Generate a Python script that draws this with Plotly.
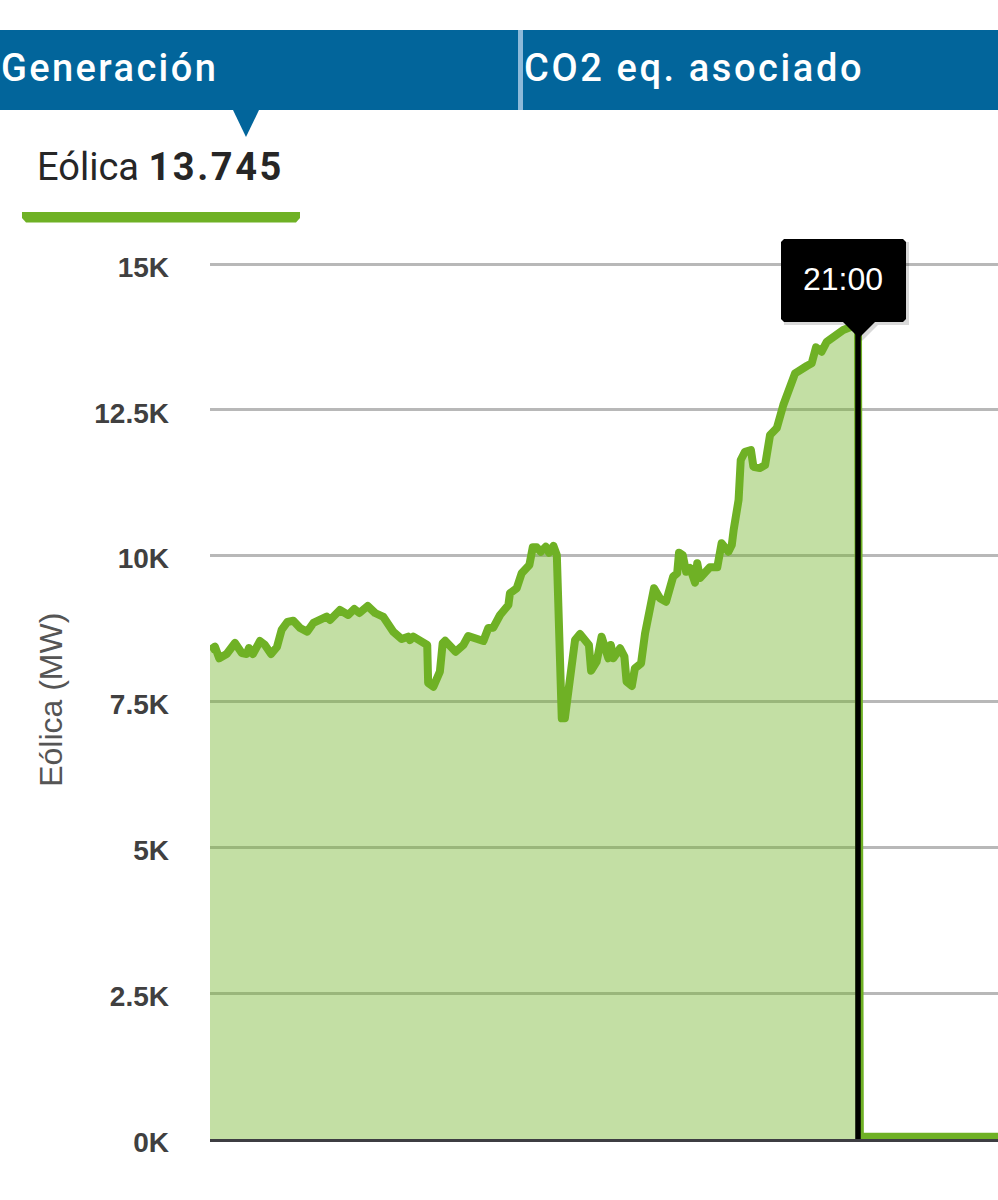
import plotly.graph_objects as go

# generation curve (hours since 00:00, MW)
horas = [0, 0.16, 0.30, 0.54, 0.81, 1.03, 1.19, 1.26, 1.39, 1.62, 1.78, 1.98, 2.17, 2.32, 2.51, 2.70,
         2.92, 3.15, 3.35, 3.56, 3.78, 3.89, 4.21, 4.48, 4.68, 4.84, 5.11, 5.35, 5.62, 5.94, 6.21,
         6.42, 6.48, 6.59, 6.86, 7.04, 7.07, 7.24, 7.45, 7.54, 7.62, 7.78, 7.96, 8.21, 8.37, 8.59,
         8.86, 9.02, 9.18, 9.40, 9.67, 9.72, 9.94, 10.10, 10.35, 10.46, 10.59, 10.72, 10.88, 10.99,
         11.13, 11.24, 11.29, 11.40, 11.50, 11.69, 11.83, 11.99, 12.19, 12.28, 12.35, 12.53, 12.69,
         12.91, 12.99, 13.07, 13.29, 13.43, 13.50, 13.67, 13.77, 13.97, 14.10, 14.26, 14.39, 14.58,
         14.78, 15.01, 15.14, 15.20, 15.32, 15.43, 15.56, 15.72, 15.79, 15.88, 16.20, 16.44, 16.58,
         16.80, 16.91, 16.97, 17.07, 17.13, 17.20, 17.34, 17.53, 17.61, 17.82, 17.99, 18.15, 18.37,
         18.58, 18.96, 19.34, 19.50, 19.64, 19.82, 19.99, 20.52, 20.93, 21.0, 21.06, 25.6]
eolica = [8383, 8440, 8241, 8314, 8503, 8331, 8314, 8417, 8314, 8537, 8469, 8314, 8434, 8726, 8863, 8885,
          8760, 8697, 8846, 8914, 8954, 8897, 9069, 8983, 9086, 9017, 9137, 9017, 8949, 8697, 8571,
          8611, 8554, 8611, 8537, 8469, 7817, 7754, 8011, 8498, 8542, 8434, 8354, 8469, 8623, 8583,
          8537, 8760, 8766, 8983, 9154, 9355, 9441, 9698, 9840, 10143, 10143, 10068, 10154, 10051,
          10166, 10011, 8726, 7212, 7212, 8097, 8554, 8657, 8554, 8469, 8028, 8183, 8611,
          8241, 8469, 8241, 8412, 8268, 7840, 7766, 8069, 8155, 8669, 9183, 9441, 9269,
          9211, 9640, 9698, 10051, 10011, 9725, 9789, 9537, 9869, 9617, 9801, 9801, 10212,
          10068, 10183, 10440, 10732, 10955, 11640, 11782, 11811, 11525, 11503, 11554, 12069, 12189,
          12583, 13126, 13251, 13298, 13572, 13497, 13668, 13869, 13954, 13954, 40, 40]

tick_vals = [0, 2500, 5000, 7500, 10000, 12500, 15000]
tick_text = ["0K", "2.5K", "5K", "7.5K", "10K", "12.5K", "15K"]
hora_actual = 21.0
valor_tope = 13954
y_max = 15060  # a bit past 15K, plotly drops a gridline sitting on the range edge

W, H = 998, 1200
AZUL = "#02659b"
VERDE = "#6fb125"
Y_CERO = 1139
PX_POR_MW = 875 / 15000


def fx(px):
    return px / W


def fy(py):
    return 1 - py / H


def rect(x0, y0, x1, y1, color):
    return dict(type="rect", xref="paper", yref="paper", x0=fx(x0), x1=fx(x1), y0=fy(y0), y1=fy(y1),
                fillcolor=color, line_width=0, layer="above")


def poly(puntos, color):
    path = "M " + " L ".join(f"{fx(a):.5f},{fy(b):.5f}" for a, b in puntos) + " Z"
    return dict(type="path", xref="paper", yref="paper", path=path, fillcolor=color, line_width=0,
                layer="above")


fig = go.Figure(go.Scatter(x=horas, y=eolica, mode="lines", fill="tozeroy",
                           line=dict(color=VERDE, width=8), fillcolor="rgba(113,178,38,0.42)",
                           hoverinfo="skip"))

shapes = [
    # header
    rect(0, 30, 518, 110, AZUL),
    rect(518, 30, 523, 110, "#8db9d9"),
    rect(523, 30, 998, 110, AZUL),
    poly([(233, 110), (259, 110), (246, 137)], AZUL),
    # selected series tab
    poly([(22, 212), (300, 212), (300, 218), (296, 222.5), (26, 222.5), (22, 218)], VERDE),
    # cursor
    dict(type="line", xref="x", yref="y", x0=hora_actual, x1=hora_actual, y0=0, y1=valor_tope,
         line=dict(color="black", width=5.5), layer="above"),
    # tooltip shadow and box
    rect(784, 242, 909, 325, "rgba(0,0,0,0.15)"),
    poly([(846, 325), (878, 325), (862, 341)], "rgba(0,0,0,0.15)"),
    poly([(784, 239), (903, 239), (906, 242), (906, 319), (903, 322), (784, 322), (781, 319), (781, 242)],
         "black"),
    poly([(843, 322), (875, 322), (859, 338)], "black"),
]

annotations = [
    dict(text='<span style="letter-spacing:2.4px">Generación</span>', x=fx(0), y=fy(68),
         font=dict(family="Roboto", size=38, color="white", weight=500)),
    dict(text='<span style="letter-spacing:2.6px">CO2 eq. asociado</span>', x=fx(523), y=fy(68),
         font=dict(family="Roboto", size=38, color="white", weight=500)),
    dict(text='Eólica <span style="font-weight:700;letter-spacing:2.6px">13.745</span>', x=fx(36), y=fy(167),
         font=dict(family="Roboto", size=38, color="#262626")),
    dict(text="21:00", x=fx(843), y=fy(279), xanchor="center",
         font=dict(family="Liberation Sans", size=32, color="white")),
]
for a in annotations:
    a.update(xref="paper", yref="paper", showarrow=False, yanchor="middle", borderpad=0)
    a.setdefault("xanchor", "left")

fig.update_layout(
    width=W, height=H, autosize=False, showlegend=False,
    margin=dict(l=0, r=0, t=0, b=0),
    paper_bgcolor="white", plot_bgcolor="white",
    shapes=shapes, annotations=annotations,
    xaxis=dict(domain=[fx(210), 1], range=[0, 788 / 30.857], showgrid=False, zeroline=False,
               showticklabels=False, ticks="", showline=True, linecolor="#3d3d42", linewidth=3,
               automargin=False),
    yaxis=dict(domain=[fy(Y_CERO), fy(Y_CERO - y_max * PX_POR_MW)], range=[0, y_max],
               tickvals=tick_vals, ticktext=tick_text,
               showgrid=True, gridcolor="#b8b8b8", gridwidth=2.5, zeroline=False, showline=False,
               ticks="", ticklabelstandoff=40, ticklabelshift=3, automargin=False,
               tickfont=dict(family="Liberation Sans", size=28, color="#404040", weight=700),
               title=dict(text="Eólica (MW)", standoff=22,
                          font=dict(family="Liberation Sans", size=32, color="#555555"))),
)

fig.write_html("out.html", config={"displayModeBar": False},
               post_script="document.body.style.margin='0';"
                           "document.querySelectorAll('.js-line').forEach(p=>p.style.strokeLinejoin='round');")
